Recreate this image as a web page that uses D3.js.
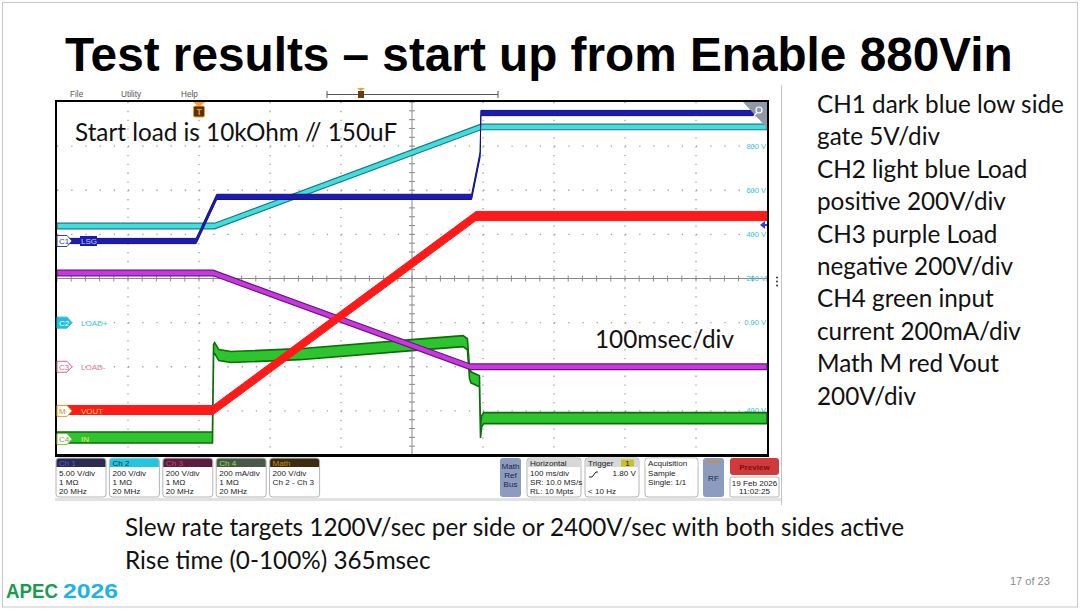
<!DOCTYPE html>
<html>
<head>
<meta charset="utf-8">
<script src="https://d3js.org/d3.v7.min.js"></script>
<style>
  body { margin: 0; background: #fff; }
  svg { display: block; }
</style>
</head>
<body>
<svg id="slide" width="1080" height="610"></svg>
<script>
// ---------------------------
// Data, time in ms, trigger at 0
// ---------------------------
var ch1Time  = [-200, -4, 25, 384, 396, 397, 800];
var ch1Volts = [0, 0, 5.0, 5.0, 9.8, 14.5, 14.5];

var ch2Time  = [-200, 22, 397, 800];
var ch2Volts = [438, 438, 887, 887];

var ch3Time  = [-200, 20, 382, 800];
var ch3Volts = [425, 425, 0, 0];

var mathTime  = [-200, 20, 390, 800];
var mathVolts = [4, 4, 883, 883];

var ch4Time = [-200, 19, 20.5, 22, 28, 45, 142, 300, 372, 378, 381, 383, 395, 396.5, 398, 401, 800];
var ch4mA   = [7, 7, 404, 413, 381, 372, 385, 426, 444, 430, 300, 280, 262, 30, 80, 95, 95];

// right hand graticule labels (CH2 scale)
var voltLabelValues = [800, 600, 400, 200, 0, -200, -400];
var voltLabels = ["800 V", "600 V", "400 V", "200 V", "0.00 V", "-200 V", "-400 V"];

// channel badges in the status bar
var chNames  = ["Ch 1", "Ch 2", "Ch 3", "Ch 4", "Math"];
var chLine1  = ["5.00 V/div", "200 V/div", "200 V/div", "200 mA/div", "200 V/div"];
var chLine2  = ["1 M\u03A9", "1 M\u03A9", "1 M\u03A9", "1 M\u03A9", "Ch 2 - Ch 3"];
var chLine3  = ["20 MHz", "20 MHz", "20 MHz", "20 MHz", ""];

var notesLines = ["CH1 dark blue low side", "gate 5V/div", "CH2 light blue Load",
  "positive 200V/div", "CH3 purple Load", "negative 200V/div", "CH4 green input",
  "current 200mA/div", "Math M red Vout", "200V/div"];

// ---------------------------
// CONSTANTS
// ---------------------------
var plotLeft = 57, plotRight = 767, plotTop = 102, plotBottom = 455;
var bodyFont = "Lato, 'Open Sans', sans-serif";
var uiFont = "'Liberation Sans', Arial, sans-serif";

var svg = d3.select("#slide");

// helper: font size so that a string gets a given width
function fitSize(txt, family, weight, width) {
  var t = svg.append("text").attr("font-family", family).attr("font-weight", weight)
    .attr("font-size", 100).text(txt);
  var w = t.node().getComputedTextLength();
  t.remove();
  return 100 * width / w;
}

// slide frame
svg.append("rect").attr("x", 2.5).attr("y", 2.5).attr("width", 1075).attr("height", 604.5)
  .attr("fill", "#fff").attr("stroke", "#c8c8c8");

// title
var titleText = "Test results \u2013 start up from Enable 880Vin";
svg.append("text")
  .attr("x", 65).attr("y", 71)
  .attr("font-family", uiFont).attr("font-weight", "bold")
  .attr("font-size", fitSize(titleText, uiFont, "bold", 948))
  .attr("fill", "#000")
  .text(titleText);

// ---------------------------
// SCOPE SCREEN
// ---------------------------
var scope = svg.append("g").attr("id", "scope");

// menu bar
[["File", 70], ["Utility", 121], ["Help", 181]].forEach(function(m) {
  scope.append("text").attr("x", m[1]).attr("y", 97).attr("font-family", uiFont)
    .attr("font-size", 8.2).attr("fill", "#555").text(m[0]);
});
scope.append("path").attr("d", "M327,91V98M327,94.5H498M498,91V98")
  .attr("stroke", "#555").attr("fill", "none");
scope.append("path").attr("d", "M357,88H365L361,91Z").attr("fill", "#f0a030");
scope.append("rect").attr("x", 358).attr("y", 91).attr("width", 6).attr("height", 7).attr("fill", "#6a3a10");

// scales
var timeScale = d3.scaleLinear().domain([-200, 800]).range([plotLeft, plotRight]);
var divScale = d3.scaleLinear().domain([-4, 4]).range([plotBottom, plotTop]);
function channelScale(offsetDiv, perDiv) {
  return d3.scaleLinear().domain([(-4 - offsetDiv) * perDiv, (4 - offsetDiv) * perDiv])
    .range([plotBottom, plotTop]);
}
var ch1Scale = channelScale(0.85, 5);
var ch2Scale = channelScale(-1, 200);
var ch3Scale = channelScale(-2, 200);
var mathScale = channelScale(-3, 200);
var ch4Scale = channelScale(-3.64, 200);

// graticule
var grid = scope.append("g");
var divW = (plotRight - plotLeft) / 10, divH = (plotBottom - plotTop) / 8;
d3.range(-100, 800, 100).forEach(function(t) {
  if (t === 300) return;
  grid.append("line").attr("x1", timeScale(t)).attr("x2", timeScale(t))
    .attr("y1", plotTop).attr("y2", plotBottom)
    .attr("stroke", "#a0a0a0").attr("stroke-width", 1.3)
    .attr("stroke-dasharray", "1.3," + (divH / 5 - 1.3));
});
d3.range(-3, 4).forEach(function(d) {
  if (d === 0) return;
  grid.append("line").attr("y1", divScale(d)).attr("y2", divScale(d))
    .attr("x1", plotLeft).attr("x2", plotRight)
    .attr("stroke", "#a0a0a0").attr("stroke-width", 1.3)
    .attr("stroke-dasharray", "1.3," + (divW / 5 - 1.3));
});
// center cross with minor ticks
grid.append("line").attr("x1", timeScale(300)).attr("x2", timeScale(300))
  .attr("y1", plotTop).attr("y2", plotBottom).attr("stroke", "#8a8a8a");
grid.append("line").attr("y1", divScale(0)).attr("y2", divScale(0))
  .attr("x1", plotLeft).attr("x2", plotRight).attr("stroke", "#8a8a8a");
d3.range(-200, 800.1, 20).forEach(function(t) {
  grid.append("line").attr("x1", timeScale(t)).attr("x2", timeScale(t))
    .attr("y1", divScale(0) - 3).attr("y2", divScale(0) + 3).attr("stroke", "#8a8a8a");
});
d3.range(-4, 4.01, 0.2).forEach(function(d) {
  grid.append("line").attr("y1", divScale(d)).attr("y2", divScale(d))
    .attr("x1", timeScale(300) - 3).attr("x2", timeScale(300) + 3).attr("stroke", "#8a8a8a");
});

// right hand voltage labels
voltLabelValues.forEach(function(v, i) {
  scope.append("text").attr("x", plotRight - 1).attr("y", ch2Scale(v) + 2.5)
    .attr("text-anchor", "end").attr("font-family", uiFont).attr("font-size", 7.5)
    .attr("fill", "#35c3d5").text(voltLabels[i]);
});

// traces
scope.append("clipPath").attr("id", "plotClip").append("rect")
  .attr("x", plotLeft - 1).attr("y", plotTop).attr("width", plotRight - plotLeft + 2)
  .attr("height", plotBottom - plotTop);
var traces = scope.append("g").attr("clip-path", "url(#plotClip)");

function drawTrace(times, vals, yScale, half, fill, stroke, sw) {
  var pts = times.map(function(t, i) { return [t, vals[i]]; });
  var band = d3.area()
    .x(function(d) { return timeScale(d[0]); })
    .y0(function(d) { return yScale(d[1]) + half; })
    .y1(function(d) { return yScale(d[1]) - half; });
  traces.append("path").datum(pts).attr("d", band)
    .attr("fill", fill).attr("stroke", stroke).attr("stroke-width", sw);
}
drawTrace(ch4Time, ch4mA, ch4Scale, 5.5, "#2ec42e", "#0b6e0b", 1.6);
drawTrace(ch3Time, ch3Volts, ch3Scale, 2.8, "#c83ad8", "#6a1090", 1.2);
drawTrace(ch2Time, ch2Volts, ch2Scale, 2.8, "#45dcdc", "#127c88", 1.2);
drawTrace(ch1Time, ch1Volts, ch1Scale, 2.6, "#1c1cb0", "#10108a", 1);
drawTrace(mathTime, mathVolts, mathScale, 4.5, "#ff1a1a", "#ff1a1a", 1);

// plot border
scope.append("rect").attr("x", plotLeft - 1).attr("y", plotTop - 1)
  .attr("width", plotRight - plotLeft + 2).attr("height", plotBottom - plotTop + 1)
  .attr("fill", "none").attr("stroke", "#000").attr("stroke-width", 2);
scope.append("line").attr("x1", plotLeft - 2).attr("x2", plotRight + 2)
  .attr("y1", plotBottom + 0.5).attr("y2", plotBottom + 0.5)
  .attr("stroke", "#000").attr("stroke-width", 3);

// trigger marker
var tx = timeScale(0);
scope.append("path").attr("d", "M" + (tx - 6) + "," + plotTop + "H" + (tx + 6) + "L" + tx + "," + (plotTop + 5) + "Z")
  .attr("fill", "#f0a030");
scope.append("rect").attr("x", tx - 5.5).attr("y", plotTop + 4).attr("width", 11).attr("height", 11)
  .attr("rx", 1.5).attr("fill", "#5a3010").attr("stroke", "#f0a030");
scope.append("text").attr("x", tx).attr("y", plotTop + 13).attr("text-anchor", "middle")
  .attr("font-family", uiFont).attr("font-weight", "bold").attr("font-size", 8.5)
  .attr("fill", "#f0a030").text("T");

// zoom corner + ch1 offset arrow + side handle
scope.append("path").attr("d", "M743," + plotTop + "H" + plotRight + "V128Z").attr("fill", "#9098aa");
scope.append("circle").attr("cx", 759).attr("cy", 110).attr("r", 3).attr("fill", "none")
  .attr("stroke", "#fff").attr("stroke-width", 1.2);
scope.append("line").attr("x1", 757).attr("y1", 112.5).attr("x2", 754).attr("y2", 116)
  .attr("stroke", "#fff").attr("stroke-width", 1.5);
scope.append("path").attr("d", "M760,225L765,221V229Z").attr("fill", "#3040c8");
scope.append("line").attr("x1", 764).attr("x2", plotRight).attr("y1", 225).attr("y2", 225)
  .attr("stroke", "#3040c8").attr("stroke-width", 2);
[-4, 0, 4].forEach(function(d) {
  scope.append("circle").attr("cx", 777).attr("cy", divScale(0) + 3 + d).attr("r", 1).attr("fill", "#333");
});
scope.append("line").attr("x1", 781.5).attr("x2", 781.5).attr("y1", 85).attr("y2", 505)
  .attr("stroke", "#c4c4c4");

// channel ground badges on the left
function badge(y, label, fill, stroke, txtColor, name, nameFill, nameColor) {
  var x0 = plotLeft;
  scope.append("path")
    .attr("d", "M" + x0 + "," + (y - 5.5) + "H" + (x0 + 10) + "L" + (x0 + 15) + "," + y +
      "L" + (x0 + 10) + "," + (y + 5.5) + "H" + x0 + "Z")
    .attr("fill", fill).attr("stroke", stroke);
  scope.append("text").attr("x", x0 + 2).attr("y", y + 3).attr("font-family", uiFont)
    .attr("font-size", 8).attr("fill", txtColor).text(label);
  if (nameFill) {
    var w = name.length * 5 + 2;
    scope.append("rect").attr("x", 80).attr("y", y - 5).attr("width", w).attr("height", 10)
      .attr("fill", nameFill);
  }
  scope.append("text").attr("x", 81).attr("y", y + 3).attr("font-family", uiFont)
    .attr("font-size", 8).attr("fill", nameColor).text(name);
}
badge(ch1Scale(0), "C1", "#fff", "#3a3ab8", "#3a3ab8", "LSG", "#1c1cb0", "#c8c8ff");
badge(ch2Scale(0), "C2", "#22c0d8", "#22c0d8", "#fff", "LOAD+", null, "#35c3d5");
badge(ch3Scale(0), "C3", "#fff", "#e0609a", "#e0609a", "LOAD-", null, "#e070a8");
badge(mathScale(0), "M", "#fff", "#e0a020", "#d09020", "VOUT", null, "#ffd060");
badge(ch4Scale(0), "C4", "#fff", "#80c040", "#70b030", "IN", null, "#e8f070");

// text inside the screen
var bodySize = fitSize(notesLines[0], bodyFont, "normal", 247);
scope.append("text").attr("x", 75).attr("y", 141).attr("font-family", bodyFont)
  .attr("font-size", bodySize).attr("fill", "#111").text("Start load is 10kOhm // 150uF");
scope.append("text").attr("x", 595).attr("y", 348).attr("font-family", bodyFont)
  .attr("font-size", bodySize).attr("fill", "#111").text("100msec/div");

// ---------------------------
// STATUS BAR
// ---------------------------
var bar = scope.append("g").attr("font-family", uiFont).attr("font-size", 8.1);
bar.append("rect").attr("x", 55).attr("y", 498).attr("width", 726).attr("height", 3).attr("fill", "#e2e2e2");

var headFill = ["#2a2a52", "#22c6e0", "#5a1e3c", "#4a5848", "#3c2c10"];
var headText = ["#5858d8", "#103040", "#d04080", "#90e040", "#c88a20"];
function box(x, w, head, hFill, hColor, lines) {
  bar.append("rect").attr("x", x).attr("y", 458).attr("width", w).attr("height", 39).attr("rx", 3)
    .attr("fill", "#fff").attr("stroke", "#b4b4b4");
  bar.append("path").attr("d", "M" + (x + 0.5) + ",467V461.5Q" + (x + 0.5) + ",458.5 " + (x + 3.5) + ",458.5H" +
    (x + w - 3.5) + "Q" + (x + w - 0.5) + ",458.5 " + (x + w - 0.5) + ",461.5V467Z").attr("fill", hFill);
  bar.append("text").attr("x", x + 3).attr("y", 465.8).attr("fill", hColor).text(head);
  lines.forEach(function(l, j) {
    bar.append("text").attr("x", x + 3).attr("y", 475.8 + j * 9).attr("fill", "#222").text(l);
  });
}
chNames.forEach(function(n, i) {
  box(56 + i * 53.4, 50, n, headFill[i], headText[i], [chLine1[i], chLine2[i], chLine3[i]]);
});

function button(x, w, lines, y0) {
  bar.append("rect").attr("x", x).attr("y", 458).attr("width", w).attr("height", 39).attr("rx", 3)
    .attr("fill", "#8c9cc0");
  lines.forEach(function(l, j) {
    bar.append("text").attr("x", x + w / 2).attr("y", y0 + j * 9).attr("text-anchor", "middle")
      .attr("fill", "#1c2440").text(l);
  });
}
button(500, 21, ["Math", "Ref", "Bus"], 469);
button(703, 21, ["RF"], 481);
bar.append("line").attr("x1", 707).attr("x2", 720).attr("y1", 462).attr("y2", 462)
  .attr("stroke", "#f08020").attr("stroke-width", 1.5);

box(527, 54, "Horizontal", "#d8d8d8", "#222", ["100 ms/div", "SR: 10.0 MS/s", "RL: 10 Mpts"]);
box(585, 54, "Trigger", "#d8d8d8", "#222", ["", "", "< 10 Hz"]);
bar.append("rect").attr("x", 621).attr("y", 459.5).attr("width", 13).attr("height", 7).attr("fill", "#c8c030");
bar.append("text").attr("x", 627.5).attr("y", 465.8).attr("text-anchor", "middle").attr("fill", "#222").text("1");
bar.append("path").attr("d", "M589,477L592,477L596,472L598,472").attr("stroke", "#222").attr("fill", "none");
bar.append("text").attr("x", 636).attr("y", 475.8).attr("text-anchor", "end").attr("fill", "#222").text("1.80 V");
box(645, 53, "Acquisition", "#fff", "#222", ["Sample", "Single: 1/1"]);

bar.append("rect").attr("x", 730).attr("y", 458).attr("width", 49).attr("height", 17).attr("rx", 3).attr("fill", "#d03a3a");
bar.append("text").attr("x", 754.5).attr("y", 469.5).attr("text-anchor", "middle").attr("font-weight", "bold")
  .attr("fill", "#7a1010").text("Preview");
bar.append("rect").attr("x", 730).attr("y", 477).attr("width", 49).attr("height", 20).attr("rx", 2)
  .attr("fill", "#fff").attr("stroke", "#b4b4b4");
bar.append("text").attr("x", 754.5).attr("y", 485.5).attr("text-anchor", "middle").attr("fill", "#222").text("19 Feb 2026");
bar.append("text").attr("x", 754.5).attr("y", 494).attr("text-anchor", "middle").attr("fill", "#222").text("11:02:25");

// ---------------------------
// SLIDE TEXT
// ---------------------------
notesLines.forEach(function(l, i) {
  svg.append("text").attr("x", 817).attr("y", 113 + i * 32.4).attr("font-family", bodyFont)
    .attr("font-size", bodySize).attr("fill", "#111").text(l);
});
svg.append("text").attr("x", 125).attr("y", 536).attr("font-family", bodyFont)
  .attr("font-size", bodySize).attr("fill", "#111")
  .text("Slew rate targets 1200V/sec per side or 2400V/sec with both sides active");
svg.append("text").attr("x", 125).attr("y", 569).attr("font-family", bodyFont)
  .attr("font-size", bodySize).attr("fill", "#111").text("Rise time (0-100%) 365msec");

svg.append("text").attr("x", 1010).attr("y", 585).attr("font-family", uiFont)
  .attr("font-size", 11).attr("fill", "#8a8a8a").text("17 of 23");

// logo
svg.append("text").attr("x", 6).attr("y", 598).attr("font-family", uiFont).attr("font-weight", "bold")
  .attr("font-size", 21).attr("textLength", 52).attr("lengthAdjust", "spacingAndGlyphs")
  .attr("fill", "#1b9a52").text("APEC");
svg.append("text").attr("x", 63).attr("y", 598).attr("font-family", uiFont).attr("font-weight", "bold")
  .attr("font-size", 21).attr("textLength", 55).attr("lengthAdjust", "spacingAndGlyphs")
  .attr("fill", "#1cb4e4").text("2026");
</script>
</body>
</html>
